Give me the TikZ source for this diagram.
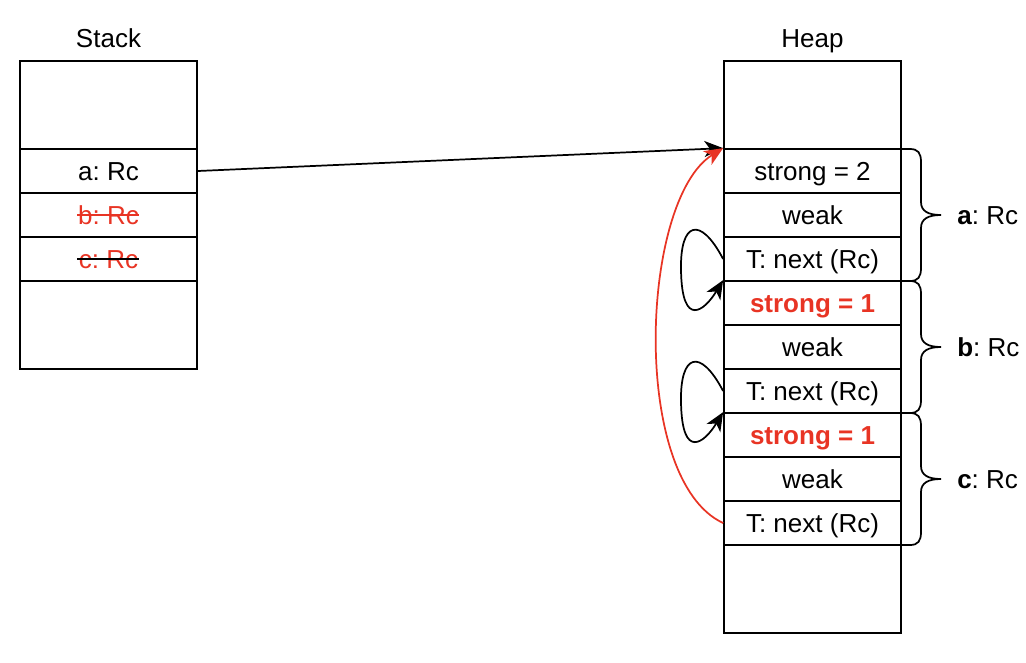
\documentclass[tikz,border=0pt]{standalone}
\usepackage{fontspec}
\setmainfont{Liberation Sans}
\usetikzlibrary{arrows.meta}
\definecolor{myred}{RGB}{232,52,36}
\frenchspacing
\begin{document}
\begin{tikzpicture}[x=0.75pt,y=-0.75pt,
  cell/.style={draw,line width=1.3pt,minimum width=132.75pt,minimum height=33pt,inner sep=0pt,text height=14pt,text depth=0pt,font=\fontsize{19.5}{22}\selectfont\frenchspacing},
  bigcell/.style={cell,minimum height=66pt},
  lbl/.style={font=\fontsize{19.5}{22}\selectfont\frenchspacing,inner sep=0pt,text height=14pt,text depth=0pt},
  conn/.style={line width=1.3pt,-{Stealth[length=14pt,width=12pt,inset=4pt]}},
  bracestyle/.style={line width=1.3pt}]
\useasboundingbox (0,0) rectangle (1026,662);
% Stack
\node[lbl] (stacklbl) at (108.5,38) {Stack};
\node[bigcell] (s0) at (108.5,105) {};
\node[cell] (s1) at (108.5,171) {a: Rc};
\node[cell,text=myred] (s2) at (108.5,215) {b: Rc};
\node[cell,text=myred] (s3) at (108.5,259) {c: Rc};
\node[bigcell] (s4) at (108.5,325) {};
\draw[myred,line width=1.3pt] (77,215) -- (139,215);
\draw[black,line width=1.3pt] (77,259) -- (139,259);
% Heap
\node[lbl] (heaplbl) at (812.5,38) {Heap};
\node[bigcell] (h0) at (812.5,105) {};
\node[cell] (h1) at (812.5,171) {strong = 2};
\node[cell] (h2) at (812.5,215) {weak};
\node[cell] (h3) at (812.5,259) {T: next (Rc)};
\node[cell,text=myred,font=\fontsize{19.5}{22}\selectfont\bfseries] (h4) at (812.5,303) {strong = 1};
\node[cell] (h5) at (812.5,347) {weak};
\node[cell] (h6) at (812.5,391) {T: next (Rc)};
\node[cell,text=myred,font=\fontsize{19.5}{22}\selectfont\bfseries] (h7) at (812.5,435) {strong = 1};
\node[cell] (h8) at (812.5,479) {weak};
\node[cell] (h9) at (812.5,523) {T: next (Rc)};
\node[bigcell] (h10) at (812.5,589) {};
% braces
\foreach \t/\m in {149/215,281/347,413/479}{
  \draw[bracestyle] (901,\t) -- (910,\t) .. controls (918,\t) and (921,\t+4) .. (921,\t+13)
    -- (921,\m-13) .. controls (921,\m-4) and (928,\m) .. (941,\m)
    .. controls (928,\m) and (921,\m+4) .. (921,\m+13)
    -- (921,\m+53) .. controls (921,\m+62) and (918,\m+66) .. (910,\m+66) -- (901,\m+66);
}
\node[lbl,anchor=west] (ba) at (957,215) {\textbf{a}: Rc};
\node[lbl,anchor=west] (bb) at (957,347) {\textbf{b}: Rc};
\node[lbl,anchor=west] (bc) at (957,479) {\textbf{c}: Rc};
% connectors
\draw[conn] (s1.east) -- (h1.north west);
\draw[conn,myred] (h9.west) .. controls (630,480) and (640,200) .. (h1.north west);
\draw[conn] (h3.west) .. controls (700,215) and (680,222) .. (681,270) .. controls (682,330) and (705,310) .. (h4.north west);
\draw[conn] (h6.west) .. controls (700,347) and (680,354) .. (681,402) .. controls (682,462) and (705,442) .. (h7.north west);
\end{tikzpicture}
\end{document}
